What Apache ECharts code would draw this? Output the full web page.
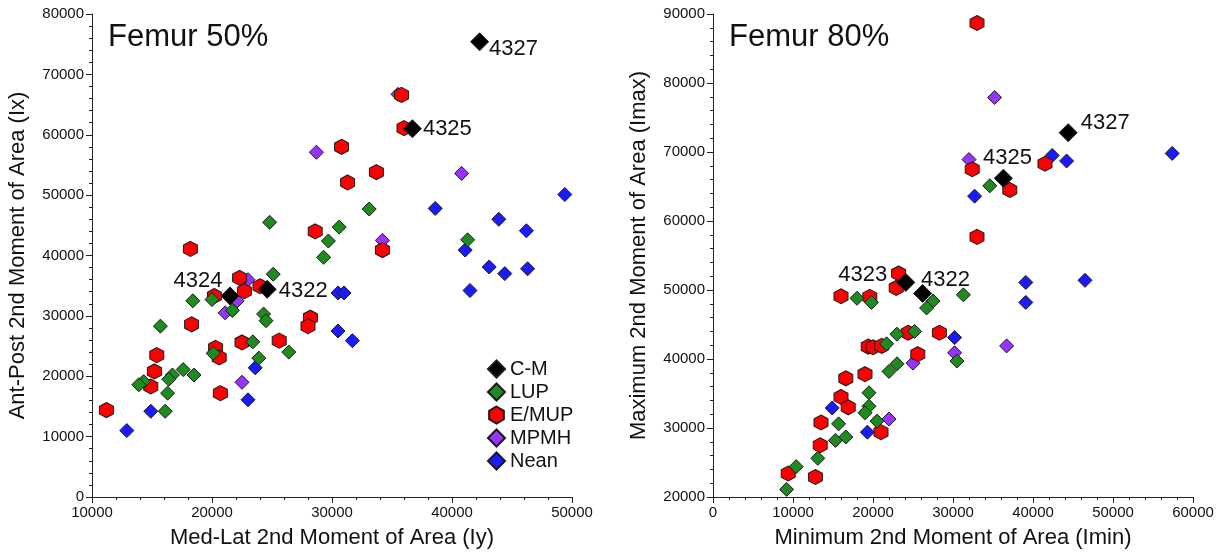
<!DOCTYPE html>
<html><head><meta charset="utf-8">
<script src="https://cdn.jsdelivr.net/npm/echarts@6/dist/echarts.min.js"></script>
<style>html,body{margin:0;padding:0;background:#fff}#c{width:1225px;height:558px}</style>
</head><body><div id="c"></div><script>
// ---------- DATA: Femur 50% (x = Iy, y = Ix) ----------
const L_CM = [[42300,75400],[36700,61000],[21500,33300],[24600,34400]];
const L_CM_LABELS = ['4327','4325','4324','4322'];
const L_LUP = [[29700,42400],[29300,39700],[25100,36900],[18400,32500],[20000,32700],[21700,30900],
  [24300,30300],[24500,29200],[15700,28300],[23400,25700],[26400,24000],[20100,23800],[23900,23000],
  [17600,21100],[16700,20200],[16400,19500],[18500,20200],[14300,19100],[13900,18600],[16300,17200],
  [16100,14200],[24800,45500],[30600,44700],[33100,47700],[41300,42600]];
const L_EMUP = [[18200,41100],[22300,36300],[22700,34100],[24000,34900],[20200,33300],[18300,28600],
  [28200,29700],[28000,28300],[22500,25600],[25600,25900],[15400,23500],[20300,24700],[20600,23100],
  [15200,20800],[14900,18300],[20700,17200],[11200,14400],[28600,44000],[30800,58000],[31300,52100],
  [33700,53800],[34200,40900],[35800,66600],[36000,61100]];
const L_MPMH = [[23000,36000],[22100,32500],[21100,30500],[22500,19000],[28700,57100],[35500,66700],
  [40800,53600],[34200,42500]];
const L_NEAN = [[23600,21400],[23000,16100],[14900,14200],[12900,11000],[30500,33800],[31000,33800],
  [30500,27500],[31700,25900],[38600,47800],[49400,50100],[43900,46000],[46200,44100],[41100,40900],
  [43100,38100],[44400,37000],[46300,37800],[41500,34200]];

// ---------- DATA: Femur 80% (x = Imin, y = Imax) ----------
const R_CM = [[44400,72800],[36300,66200],[24100,51100],[26200,49500]];
const R_CM_LABELS = ['4327','4325','4323','4322'];
const R_LUP = [[18000,48800],[19800,48200],[27500,48400],[26700,47400],[31300,49300],[25200,44000],
  [23000,43600],[21700,42200],[30500,39700],[23000,39300],[22000,38200],[19500,35100],[19500,33150],
  [19000,32200],[15700,30600],[20500,31000],[15300,28200],[16600,28700],[13100,25600],[10400,24400],
  [9200,21100],[34600,65100]];
const R_EMUP = [[33000,88700],[32400,67500],[41500,68300],[37100,64500],[33000,57700],[23200,52400],
  [22900,50300],[16000,49100],[19600,49000],[24400,43800],[28300,43800],[19400,41800],[20000,41700],
  [21100,41900],[25600,40700],[16600,37200],[19000,37800],[16000,34500],[16900,33000],[13500,30800],
  [21000,29400],[13400,27500],[9400,23400],[12800,22900]];
const R_MPMH = [[35200,77900],[32000,68900],[36700,41900],[30200,40900],[25000,39400],[22000,31300]];
const R_NEAN = [[57400,69800],[42400,69500],[44200,68700],[32700,63600],[39100,51100],[46500,51400],
  [39100,48200],[30200,43100],[14900,32900],[19300,29400]];

const TITLES = ['Femur 50%','Femur 80%'];
const X_NAMES = ['Med-Lat 2nd Moment of Area (Iy)','Minimum 2nd Moment of Area (Imin)'];
const Y_NAMES = ['Ant-Post 2nd Moment of Area (Ix)','Maximum 2nd Moment of Area (Imax)'];
const LEGEND_NAMES = ['C-M','LUP','E/MUP','MPMH','Nean'];

// ---------- styling ----------
const FONT = '"Liberation Sans", Arial, sans-serif';
const HEX = 'path://M0,-1L0.866,-0.5L0.866,0.5L0,1L-0.866,0.5L-0.866,-0.5Z';
const STY = {
  'C-M':   {symbol:'diamond', size:18, color:'#000000', z:4},
  'LUP':   {symbol:'diamond', size:14, color:'#1f8a1f', z:5},
  'E/MUP': {symbol:HEX, size:[14,15], color:'#ff0000', z:3},
  'MPMH':  {symbol:'diamond', size:14, color:'#9933ff', z:2},
  'Nean':  {symbol:'diamond', size:14, color:'#1a1aff', z:1}
};
// label placement for the C-M points [position, distance, offset]
const L_LBL = [['right',0,[0,7]],['right',1,[0,0]],['left',-2,[0,-15]],['right',2,[0,2]]];
const R_LBL = [['right',3,[0,-10]],['top',0,[4,0]],['left',9,[0,-7]],['right',-11,[0,-14]]];

function series(name, data, gi, labels, lbl) {
  const s = STY[name];
  const d = data.map((p,i) => labels ? {
    value:p,
    label:{show:true, formatter:labels[i], position:lbl[i][0], distance:lbl[i][1], offset:lbl[i][2],
      fontSize:22, color:'#111', fontFamily:FONT}
  } : p);
  return {type:'scatter', name, xAxisIndex:gi, yAxisIndex:gi, data:d, symbol:s.symbol, symbolSize:s.size,
    z:s.z, itemStyle:{color:s.color, borderColor:'#1a1a1a', borderWidth:1, opacity:1},
    emphasis:{disabled:true}, animation:false};
}

function axis(gi, min, max, name, isY) {
  return {type:'value', gridIndex:gi, min, max, interval:10000, name,
    nameLocation:'middle', nameGap: isY ? 63 : 30,
    nameTextStyle:{fontSize:22, color:'#111', fontFamily:FONT},
    axisLine:{show:true, onZero:false, lineStyle:{color:'#222', width:1}},
    axisTick:{show:true, inside:false, length:6, lineStyle:{color:'#222'}},
    minorTick:{show:true, splitNumber:5, length:3, lineStyle:{color:'#222'}},
    splitLine:{show:false}, minorSplitLine:{show:false},
    axisLabel:{fontSize:15, color:'#111', margin:8, fontFamily:FONT, formatter: v => String(v)}};
}

const chart = echarts.init(document.getElementById('c'), null, {renderer:'canvas'});
chart.setOption({
  backgroundColor:'#ffffff',
  animation:false,
  grid:[{left:92, top:14, width:480, height:483}, {left:713, top:14, width:480, height:483}],
  xAxis:[axis(0,10000,50000,X_NAMES[0],false), axis(1,0,60000,X_NAMES[1],false)],
  yAxis:[axis(0,0,80000,Y_NAMES[0],true), axis(1,20000,90000,Y_NAMES[1],true)],
  legend:{data:LEGEND_NAMES, orient:'vertical', left:487, top:359, itemWidth:17, itemHeight:17,
    itemGap:3, padding:0, textStyle:{fontSize:20, color:'#111', fontFamily:FONT}, selectedMode:false},
  graphic:[
    {type:'text', x:108, y:37, style:{text:TITLES[0], font:'31px '+FONT, fill:'#111', verticalAlign:'middle'}},
    {type:'text', x:729, y:37, style:{text:TITLES[1], font:'31px '+FONT, fill:'#111', verticalAlign:'middle'}}
  ],
  series:[
    series('Nean', L_NEAN, 0), series('MPMH', L_MPMH, 0), series('E/MUP', L_EMUP, 0),
    series('C-M', L_CM, 0, L_CM_LABELS, L_LBL), series('LUP', L_LUP, 0),
    series('Nean', R_NEAN, 1), series('MPMH', R_MPMH, 1), series('E/MUP', R_EMUP, 1),
    series('C-M', R_CM, 1, R_CM_LABELS, R_LBL), series('LUP', R_LUP, 1)
  ]
});
</script></body></html>
